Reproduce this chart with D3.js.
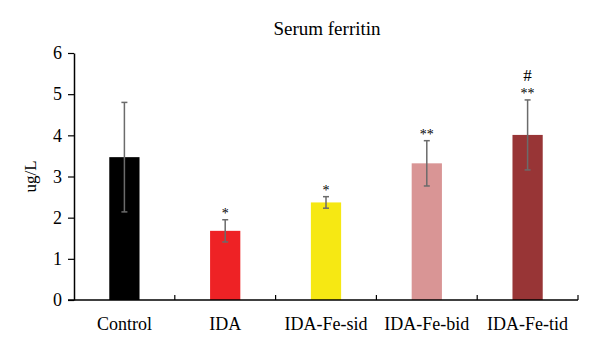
<!DOCTYPE html>
<html>
<head>
<meta charset="utf-8">
<script src="https://cdn.jsdelivr.net/npm/d3@7"></script>
<style>
  body { margin: 0; background: #fff; }
  text { font-family: "Liberation Serif", "DejaVu Serif", serif; }
</style>
</head>
<body>
<div id="chart"></div>
<script>
const groups = ["Control", "IDA", "IDA-Fe-sid", "IDA-Fe-bid", "IDA-Fe-tid"];
const means = [3.47, 1.68, 2.37, 3.32, 4.01];
const errors = [1.33, 0.27, 0.14, 0.55, 0.85];
const marks = ["", "*", "*", "**", "**"];
const marks2 = ["", "", "", "", "#"];
const colors = ["#000000", "#ee2225", "#f6e813", "#d99595", "#983536"];
const yTicks = [0, 1, 2, 3, 4, 5, 6];

const width = 600, height = 352;
const margin = {top: 53, right: 22, bottom: 52, left: 74};

const svg = d3.select("#chart").append("svg")
    .attr("width", width)
    .attr("height", height);

const g = svg.append("g")
    .attr("transform", `translate(${margin.left},${margin.top})`);

const innerW = width - margin.left - margin.right;
const innerH = height - margin.top - margin.bottom;

const x = d3.scaleBand()
    .domain(groups)
    .range([0, innerW]);

const y = d3.scaleLinear()
    .domain([0, 6])
    .range([innerH, 0]);

const barW = x.bandwidth() * 0.3;

// bars
g.selectAll(".bar")
    .data(groups)
    .join("rect")
    .attr("class", "bar")
    .attr("x", d => x(d) + x.bandwidth() / 2 - barW / 2)
    .attr("y", (d, i) => y(means[i]))
    .attr("width", barW)
    .attr("height", (d, i) => y(0) - y(means[i]))
    .attr("fill", (d, i) => colors[i]);

// error bars
const err = g.selectAll(".err")
    .data(groups)
    .join("g")
    .attr("class", "err")
    .attr("stroke", "#6b6b6b")
    .attr("stroke-width", 1.5);

err.append("line")
    .attr("x1", d => x(d) + x.bandwidth() / 2)
    .attr("x2", d => x(d) + x.bandwidth() / 2)
    .attr("y1", (d, i) => y(means[i] + errors[i]))
    .attr("y2", (d, i) => y(means[i] - errors[i]));

[1, -1].forEach(s => {
    err.append("line")
        .attr("x1", d => x(d) + x.bandwidth() / 2 - 3)
        .attr("x2", d => x(d) + x.bandwidth() / 2 + 3)
        .attr("y1", (d, i) => y(means[i] + s * errors[i]))
        .attr("y2", (d, i) => y(means[i] + s * errors[i]));
});

// significance marks: stars above the error bar, "#" above the stars
g.selectAll(".mark")
    .data(groups)
    .join("text")
    .attr("class", "mark")
    .attr("x", d => x(d) + x.bandwidth() / 2)
    .attr("y", (d, i) => y(means[i] + errors[i]) - 2)
    .attr("text-anchor", "middle")
    .attr("font-size", 14)
    .attr("fill", "#000")
    .text((d, i) => marks[i]);

g.selectAll(".mark2")
    .data(groups)
    .join("text")
    .attr("class", "mark2")
    .attr("x", d => x(d) + x.bandwidth() / 2)
    .attr("y", (d, i) => y(means[i] + errors[i]) - 19)
    .attr("text-anchor", "middle")
    .attr("font-size", 17)
    .attr("fill", "#000")
    .text((d, i) => marks2[i]);

// x axis with ticks at band edges
const xAxis = g.append("g")
    .attr("transform", `translate(0,${innerH})`);

xAxis.append("line")
    .attr("x1", -6).attr("x2", innerW)
    .attr("stroke", "#000").attr("stroke-width", 1.5);

xAxis.selectAll(".xt")
    .data(groups)
    .join("line")
    .attr("x1", d => x(d) + x.bandwidth())
    .attr("x2", d => x(d) + x.bandwidth())
    .attr("y1", 0).attr("y2", -5)
    .attr("stroke", "#000").attr("stroke-width", 1.2);

xAxis.selectAll(".xl")
    .data(groups)
    .join("text")
    .attr("x", d => x(d) + x.bandwidth() / 2)
    .attr("y", 30)
    .attr("text-anchor", "middle")
    .attr("font-size", 18)
    .attr("fill", "#000")
    .text(d => d);

// y axis
const yAxis = g.append("g")
    .call(d3.axisLeft(y).tickValues(yTicks).tickFormat(d3.format("d"))
        .tickSize(6).tickSizeOuter(0).tickPadding(6));

yAxis.select(".domain").attr("stroke-width", 1.5);
yAxis.selectAll(".tick line").attr("stroke-width", 1.2);
yAxis.selectAll(".tick text")
    .attr("font-size", 18)
    .attr("font-family", "Liberation Serif, DejaVu Serif, serif");

// labels
svg.append("text")
    .attr("transform", `translate(36,${margin.top + innerH / 2}) rotate(-90)`)
    .attr("text-anchor", "middle")
    .attr("font-size", 17)
    .text("ug/L");

svg.append("text")
    .attr("x", 327)
    .attr("y", 35)
    .attr("text-anchor", "middle")
    .attr("font-size", 19)
    .text("Serum ferritin");
</script>
</body>
</html>
